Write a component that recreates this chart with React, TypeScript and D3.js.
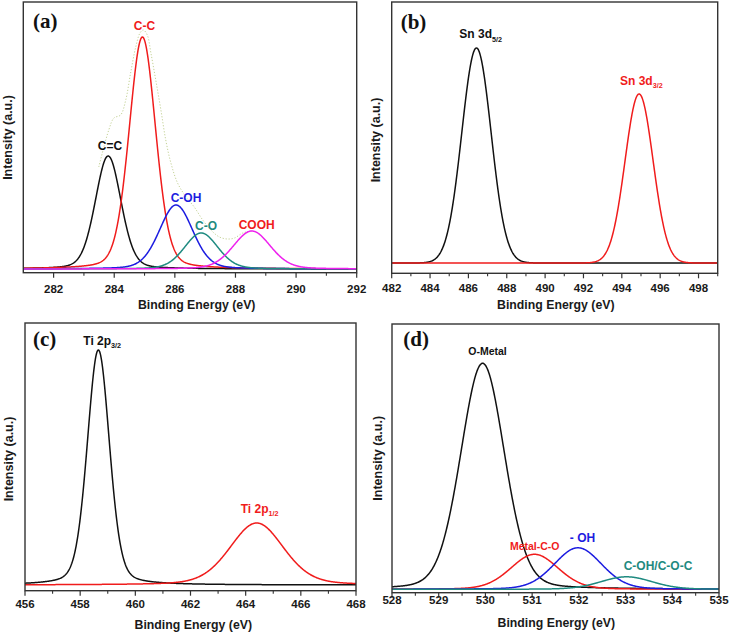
import React from "react";
import * as d3 from "d3";

const W = 729;
const H = 632;

// ---------- Panel (a): C 1s ----------
const c1sLabels = ["C=C", "C-C", "C-OH", "C-O", "COOH"];
const c1sCenters = [283.8, 284.93, 286.04, 286.87, 288.54];
const c1sHeights = [113, 232, 64, 36, 38];
const c1sFwhm = [1.0, 1.03, 1.3, 1.3, 1.45];
const c1sMajorTicks = [282, 284, 286, 288, 290, 292];
const c1sMinorTicks = [283, 285, 287, 289, 291];
// measured envelope (dotted) of the raw spectrum
const c1sEnvX = [283.49, 283.82, 283.99, 284.21, 284.38, 284.54, 284.71, 284.85, 284.96, 285.09, 285.21, 285.37, 285.54, 285.7, 285.87, 286.09, 286.37, 286.64, 286.92, 287.19, 287.47, 287.74, 287.97, 288.24, 288.53];
const c1sEnvY = [102, 139, 151, 154, 169, 196, 222, 236, 239, 234, 216, 189, 159, 129, 106, 86, 72, 62, 49, 39, 32, 30, 31, 36, 38];

// ---------- Panel (b): Sn 3d ----------
const sn3dCenters = [486.42, 494.9];
const sn3dHeights = [215, 169];
const sn3dFwhm = [1.8, 1.72];
const sn3dMajorTicks = [482, 484, 486, 488, 490, 492, 494, 496, 498];
const sn3dMinorTicks = [483, 485, 487, 489, 491, 493, 495, 497, 499];

// ---------- Panel (c): Ti 2p ----------
const ti2pCenters = [458.66, 464.4];
const ti2pHeights = [235, 62];
const ti2pFwhm = [0.95, 2.3];
const ti2pMajorTicks = [456, 458, 460, 462, 464, 466, 468];
const ti2pMinorTicks = [457, 459, 461, 463, 465, 467];

// ---------- Panel (d): O 1s ----------
const o1sLabels = ["O-Metal", "Metal-C-O", "- OH", "C-OH/C-O-C"];
const o1sCenters = [529.94, 531.05, 531.98, 533.02];
const o1sHeights = [226, 35, 41.5, 12.5];
const o1sFwhm = [1.1, 1.2, 1.2, 1.3];
const o1sMajorTicks = [528, 529, 530, 531, 532, 533, 534, 535];
const o1sMinorTicks = [528.5, 529.5, 530.5, 531.5, 532.5, 533.5, 534.5];

const BLACK = "#111111";
const RED = "#f01c1c";
const BLUE = "#1c1ce0";
const TEAL = "#1e8a80";
const MAGENTA = "#ee22ee";
const FRAME = "#333333";
const SANS = "'Liberation Sans', Arial, Helvetica, sans-serif";
const SERIF = "'Liberation Serif', 'Times New Roman', serif";

function pseudoVoigt(x: number, c: number, h: number, w: number, eta: number) {
  const t = (x - c) / w;
  const t2 = 4 * t * t;
  return h * (eta / (1 + t2) + (1 - eta) * Math.exp(-Math.LN2 * t2));
}

type Label = {
  text: string;
  sub?: string;
  x: number;
  y: number;
  color: string;
  size: number;
  anchor?: "start" | "middle";
};

type PanelProps = {
  tag: string;
  tagX: number;
  tagY: number;
  left: number;
  top: number;
  right: number;
  bottom: number;
  xDomain: [number, number];
  yDomain: [number, number];
  centers: number[];
  heights: number[];
  fwhm: number[];
  eta: number;
  colors: string[];
  majorTicks: number[];
  minorTicks: number[];
  tickLabelY: number;
  titleX: number;
  titleY: number;
  yTitleX: number;
  yTitleY: number;
  labels: Label[];
  envX?: number[];
  envY?: number[];
};

function Panel(p: PanelProps) {
  const x = d3.scaleLinear().domain(p.xDomain).range([p.left, p.right]);
  const y = d3.scaleLinear().domain(p.yDomain).range([p.bottom, p.top]);
  const n = 700;
  const xs = d3.range(n + 1).map((i) => p.xDomain[0] + ((p.xDomain[1] - p.xDomain[0]) * i) / n);
  const line = d3
    .line<[number, number]>()
    .x((d) => x(d[0]))
    .y((d) => y(d[1]))
    .curve(d3.curveLinear);
  const envLine = d3
    .line<[number, number]>()
    .x((d) => x(d[0]))
    .y((d) => y(d[1]))
    .curve(d3.curveCatmullRom);
  const clipId = "clip-" + p.tag.replace(/[()]/g, "");
  return (
    <g>
      <defs>
        <clipPath id={clipId}>
          <rect x={p.left} y={p.top} width={p.right - p.left} height={p.bottom - p.top} />
        </clipPath>
      </defs>
      <g clipPath={`url(#${clipId})`}>
        {p.envX && p.envY && (
          <path
            d={envLine(p.envX.map((v, i) => [v, p.envY![i]] as [number, number])) || ""}
            fill="none"
            stroke="#c4d296"
            strokeWidth={1}
            strokeDasharray="1.2 1.8"
          />
        )}
        {p.centers.map((c, i) => (
          <path
            key={i}
            d={line(xs.map((v) => [v, pseudoVoigt(v, c, p.heights[i], p.fwhm[i], p.eta)] as [number, number])) || ""}
            fill="none"
            stroke={p.colors[i]}
            strokeWidth={1.5}
          />
        ))}
      </g>
      <rect
        x={p.left}
        y={p.top}
        width={p.right - p.left}
        height={p.bottom - p.top}
        fill="none"
        stroke={FRAME}
        strokeWidth={1.4}
      />
      {p.majorTicks.map((t) => (
        <g key={"M" + t}>
          <line x1={x(t)} x2={x(t)} y1={p.bottom} y2={p.bottom + 5} stroke={FRAME} strokeWidth={1.2} />
          <text
            x={x(t)}
            y={p.tickLabelY}
            textAnchor="middle"
            fontFamily={SANS}
            fontWeight="bold"
            fontSize={11.5}
            fill="#1a1a1a"
          >
            {t}
          </text>
        </g>
      ))}
      {p.minorTicks.map((t) => (
        <line key={"m" + t} x1={x(t)} x2={x(t)} y1={p.bottom} y2={p.bottom + 3} stroke={FRAME} strokeWidth={1.1} />
      ))}
      <text
        x={p.titleX}
        y={p.titleY}
        textAnchor="middle"
        fontFamily={SANS}
        fontWeight="bold"
        fontSize={12.3}
        fill="#1a1a1a"
      >
        Binding Energy (eV)
      </text>
      <text
        transform={`translate(${p.yTitleX},${p.yTitleY}) rotate(-90)`}
        textAnchor="middle"
        fontFamily={SANS}
        fontWeight="bold"
        fontSize={12.5}
        fill="#1a1a1a"
      >
        Intensity (a.u.)
      </text>
      <text x={p.tagX} y={p.tagY} fontFamily={SERIF} fontWeight="bold" fontSize={21} fill="#111">
        {p.tag}
      </text>
      {p.labels.map((l, i) => (
        <text
          key={i}
          x={l.x}
          y={l.y}
          textAnchor={l.anchor || "middle"}
          fontFamily={SANS}
          fontWeight="bold"
          fontSize={l.size}
          fill={l.color}
        >
          {l.text}
          {l.sub && (
            <tspan fontSize={7.2} dy={3.2}>
              {l.sub}
            </tspan>
          )}
        </text>
      ))}
    </g>
  );
}

export default function App() {
  return (
    <svg
      width={W}
      height={H}
      viewBox={`0 0 ${W} ${H}`}
      style={{ position: "absolute", left: 0, top: 0, background: "#fff" }}
    >
      <rect x={0} y={0} width={W} height={H} fill="#fff" />
      <Panel
        tag="(a)"
        tagX={33}
        tagY={28}
        left={23.3}
        top={2}
        right={356.7}
        bottom={272.7}
        xDomain={[281, 292]}
        yDomain={[-3.7, 267]}
        centers={c1sCenters}
        heights={c1sHeights}
        fwhm={c1sFwhm}
        eta={0.2}
        colors={[BLACK, RED, BLUE, TEAL, MAGENTA]}
        majorTicks={c1sMajorTicks}
        minorTicks={c1sMinorTicks}
        tickLabelY={293.3}
        titleX={196.7}
        titleY={309}
        yTitleX={12}
        yTitleY={137.5}
        envX={c1sEnvX}
        envY={c1sEnvY}
        labels={[
          { text: c1sLabels[0], x: 110, y: 150, color: BLACK, size: 12 },
          { text: c1sLabels[1], x: 144.5, y: 29.5, color: RED, size: 12 },
          { text: c1sLabels[2], x: 186, y: 201.5, color: BLUE, size: 12 },
          { text: c1sLabels[3], x: 206, y: 230, color: TEAL, size: 12 },
          { text: c1sLabels[4], x: 256.7, y: 228.5, color: RED, size: 12 },
        ]}
      />
      <Panel
        tag="(b)"
        tagX={400.7}
        tagY={29}
        left={391.7}
        top={2}
        right={717.7}
        bottom={273.3}
        xDomain={[482, 499]}
        yDomain={[-10.3, 261]}
        centers={sn3dCenters}
        heights={sn3dHeights}
        fwhm={sn3dFwhm}
        eta={0}
        colors={[BLACK, RED]}
        majorTicks={sn3dMajorTicks}
        minorTicks={sn3dMinorTicks}
        tickLabelY={291.7}
        titleX={555.8}
        titleY={309}
        yTitleX={380}
        yTitleY={140}
        labels={[
          { text: "Sn 3d", sub: "5/2", x: 459.3, y: 38.3, color: BLACK, size: 12, anchor: "start" },
          { text: "Sn 3d", sub: "3/2", x: 620, y: 85, color: RED, size: 12, anchor: "start" },
        ]}
      />
      <Panel
        tag="(c)"
        tagX={33}
        tagY={346}
        left={25}
        top={323}
        right={356}
        bottom={590.7}
        xDomain={[456, 468]}
        yDomain={[-5.7, 262]}
        centers={ti2pCenters}
        heights={ti2pHeights}
        fwhm={ti2pFwhm}
        eta={0.25}
        colors={[BLACK, RED]}
        majorTicks={ti2pMajorTicks}
        minorTicks={ti2pMinorTicks}
        tickLabelY={607.7}
        titleX={193.3}
        titleY={629}
        yTitleX={12.5}
        yTitleY={459}
        labels={[
          { text: "Ti 2p", sub: "3/2", x: 83.3, y: 345, color: BLACK, size: 12, anchor: "start" },
          { text: "Ti 2p", sub: "1/2", x: 240.7, y: 513, color: RED, size: 12, anchor: "start" },
        ]}
      />
      <Panel
        tag="(d)"
        tagX={403.3}
        tagY={346}
        left={392}
        top={324}
        right={719}
        bottom={592.7}
        xDomain={[528, 535]}
        yDomain={[-3.4, 265.3]}
        centers={o1sCenters}
        heights={o1sHeights}
        fwhm={o1sFwhm}
        eta={0.15}
        colors={[BLACK, RED, BLUE, TEAL]}
        majorTicks={o1sMajorTicks}
        minorTicks={o1sMinorTicks}
        tickLabelY={603.5}
        titleX={556.3}
        titleY={627}
        yTitleX={381.5}
        yTitleY={458.3}
        labels={[
          { text: o1sLabels[0], x: 487.5, y: 355, color: BLACK, size: 10.5 },
          { text: o1sLabels[1], x: 534.7, y: 550, color: RED, size: 10.5 },
          { text: o1sLabels[2], x: 582.5, y: 541.5, color: BLUE, size: 12 },
          { text: o1sLabels[3], x: 658, y: 569.5, color: TEAL, size: 12 },
        ]}
      />
    </svg>
  );
}
